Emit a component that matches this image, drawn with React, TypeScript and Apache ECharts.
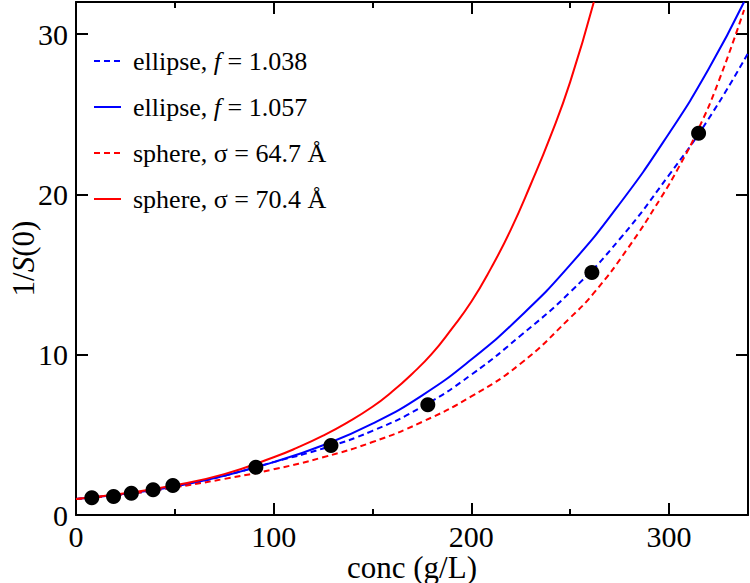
import React, { useEffect, useRef } from "react";
import * as echarts from "echarts";

// measured data points
const pointConc = [8, 19, 28, 39, 49, 91, 129, 178, 261, 315];
const pointInvS0 = [1.07, 1.15, 1.36, 1.57, 1.84, 2.98, 4.33, 6.88, 15.13, 23.81];

// ellipse, f = 1.038 (blue dashed)
const ell1Conc = [0, 25, 50, 75, 100, 125, 150, 175, 200, 225, 250, 275, 300, 320, 340];
const ell1Val = [1.0, 1.3, 1.75, 2.45, 3.3, 4.15, 5.25, 6.75, 8.75, 11.2, 13.9, 17.2, 21.2, 24.7, 28.8];

// ellipse, f = 1.057 (blue solid)
const ell2Conc = [0, 25, 50, 75, 100, 125, 150, 175, 200, 225, 250, 275, 300, 320, 338];
const ell2Val = [1.0, 1.32, 1.78, 2.45, 3.3, 4.35, 5.7, 7.45, 9.7, 12.4, 15.6, 19.4, 23.8, 27.8, 32];

// sphere, sigma = 64.7 Å (red dashed)
const sph1Conc = [0, 25, 50, 75, 100, 125, 150, 175, 200, 225, 250, 262, 279, 296, 305, 315, 325, 338];
const sph1Val = [1.0, 1.3, 1.73, 2.25, 2.85, 3.6, 4.55, 5.8, 7.4, 9.45, 12.3, 13.85, 16.6, 19.8, 21.7, 24.1, 27.0, 31.5];

// sphere, sigma = 70.4 Å (red solid)
const sph2Conc = [0, 25, 50, 75, 100, 112, 125, 137, 150, 160, 170, 180, 190, 200, 210, 220, 230, 240, 250, 262];
const sph2Val = [1.0, 1.35, 1.85, 2.55, 3.6, 4.2, 4.95, 5.75, 6.75, 7.7, 8.8, 10.05, 11.6, 13.3, 15.4, 17.8, 20.6, 23.6, 27.0, 32];

const xTicksMajor = 100;
const xTicksMinor = 50;
const yTicks = 10;

const names = [
  "ellipse, f = 1.038",
  "ellipse, f = 1.057",
  "sphere, σ = 64.7 Å",
  "sphere, σ = 70.4 Å",
];
const legendLabels = [
  "ellipse, {it|f} = 1.038",
  "ellipse, {it|f} = 1.057",
  "sphere, σ = 64.7 Å",
  "sphere, σ = 70.4 Å",
];

const FONT = "Liberation Serif";

const zip = (xs: number[], ys: number[]) => xs.map((x, i) => [x, ys[i]]);

export default function App() {
  const ref = useRef<HTMLDivElement>(null);
  useEffect(() => {
    if (!ref.current) return;
    const chart = echarts.init(ref.current, null, { renderer: "svg" });
    const xCommon = { type: "value", min: 0, max: 340, gridIndex: 0 };
    const axisLineStyle = { show: true, onZero: false, lineStyle: { color: "#000", width: 2 } };
    const lineSeries = (name: string, xs: number[], ys: number[], color: string, dashed: boolean) => ({
      name,
      type: "line",
      data: zip(xs, ys),
      smooth: 0.5,
      symbol: "none",
      showSymbol: false,
      clip: true,
      lineStyle: { color, width: 2, type: dashed ? [6, 4] : "solid" },
      itemStyle: { color },
      z: 2,
    });
    chart.setOption({
      animation: false,
      textStyle: { fontFamily: FONT },
      grid: { left: 76, right: 2, top: 2, bottom: 68, containLabel: false, outerBoundsMode: "none" },
      legend: {
        data: names,
        orient: "vertical",
        left: 88,
        top: 43,
        itemWidth: 27,
        itemHeight: 14,
        itemGap: 20,
        itemStyle: { opacity: 0 },
        formatter: (n: string) => legendLabels[names.indexOf(n)],
        textStyle: {
          fontFamily: FONT,
          fontSize: 26,
          color: "#000",
          padding: [0, 0, 0, 7],
          rich: { it: { fontFamily: FONT, fontSize: 26, fontStyle: "italic", color: "#000" } },
        },
      },
      xAxis: [
        {
          ...xCommon,
          position: "bottom",
          interval: xTicksMajor,
          axisLine: axisLineStyle,
          axisTick: { show: true, inside: true, length: 12, lineStyle: { color: "#000", width: 2 } },
          axisLabel: {
            show: true, fontSize: 30, color: "#000", margin: 7, fontFamily: FONT,
            showMaxLabel: false, lineHeight: 28,
          },
          splitLine: { show: false },
          name: "conc (g/L)",
          nameLocation: "middle",
          nameGap: 52,
          nameMoveOverlap: false,
          nameTextStyle: { fontSize: 31, color: "#000", fontFamily: FONT, verticalAlign: "middle", lineHeight: 30 },
        },
        {
          ...xCommon,
          position: "bottom",
          interval: xTicksMinor,
          axisLine: { show: false, onZero: false },
          axisTick: { show: true, inside: true, length: 6, lineStyle: { color: "#000", width: 2 } },
          axisLabel: { show: false },
          splitLine: { show: false },
        },
        {
          ...xCommon,
          position: "top",
          interval: xTicksMajor,
          axisLine: axisLineStyle,
          axisTick: { show: true, inside: true, length: 12, lineStyle: { color: "#000", width: 2 } },
          axisLabel: { show: false },
          splitLine: { show: false },
        },
        {
          ...xCommon,
          position: "top",
          interval: xTicksMinor,
          axisLine: { show: false, onZero: false },
          axisTick: { show: true, inside: true, length: 6, lineStyle: { color: "#000", width: 2 } },
          axisLabel: { show: false },
          splitLine: { show: false },
        },
      ],
      yAxis: [
        {
          type: "value",
          min: 0,
          max: 32,
          interval: yTicks,
          position: "left",
          axisLine: axisLineStyle,
          axisTick: { show: true, inside: true, length: 12, lineStyle: { color: "#000", width: 2 } },
          axisLabel: { show: true, fontSize: 30, color: "#000", margin: 8, fontFamily: FONT, showMaxLabel: false },
          splitLine: { show: false },
          name: "1/{it|S}(0)",
          nameLocation: "middle",
          nameGap: 37,
          nameRotate: 90,
          nameMoveOverlap: false,
          nameTextStyle: {
            fontSize: 31,
            color: "#000",
            fontFamily: FONT,
            rich: { it: { fontSize: 31, fontStyle: "italic", fontFamily: FONT, color: "#000" } },
          },
        },
        {
          type: "value",
          min: 0,
          max: 32,
          interval: yTicks,
          position: "right",
          axisLine: axisLineStyle,
          axisTick: { show: true, inside: true, length: 12, lineStyle: { color: "#000", width: 2 } },
          axisLabel: { show: false },
          splitLine: { show: false },
        },
      ],
      series: [
        lineSeries(names[0], ell1Conc, ell1Val, "#0000ff", true),
        lineSeries(names[1], ell2Conc, ell2Val, "#0000ff", false),
        lineSeries(names[2], sph1Conc, sph1Val, "#ff0000", true),
        lineSeries(names[3], sph2Conc, sph2Val, "#ff0000", false),
        {
          name: "data",
          type: "scatter",
          data: zip(pointConc, pointInvS0),
          symbol: "circle",
          symbolSize: 15,
          itemStyle: { color: "#000", opacity: 1 },
          z: 3,
        },
      ],
    });
    return () => chart.dispose();
  }, []);
  return (
    <div
      ref={ref}
      style={{ position: "fixed", left: 0, top: 0, width: 750, height: 583, background: "#fff" }}
    />
  );
}
